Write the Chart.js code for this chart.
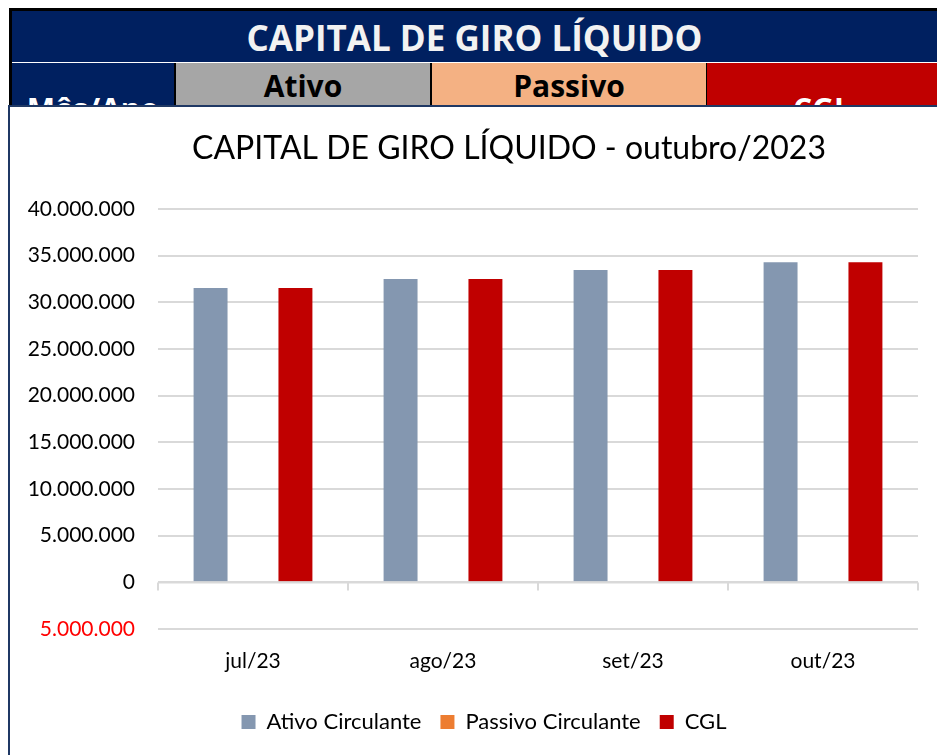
<!DOCTYPE html>
<html>
<head>
<meta charset="utf-8">
<script src="https://cdn.jsdelivr.net/npm/chart.js@4.4.0/dist/chart.umd.min.js"></script>
<style>
  body { margin: 0; background: #fff; width: 937px; height: 755px; overflow: hidden; position: relative; font-family: Lato, "Open Sans", sans-serif; }
  .box { position: absolute; overflow: hidden; }
  #frame { left: 9px; top: 8px; width: 928px; height: 120px; background: #000; }
  #top { left: 12px; top: 11px; width: 925px; height: 51px; background: #002060; color: #f2f2f2;
         font-family: "Open Sans", sans-serif; font-weight: bold; font-size: 35px; text-align: center; line-height: 54px; }
  #sep { left: 12px; top: 62px; width: 925px; height: 1px; background: #fff; }
  .cell { top: 63px; height: 60px; font-family: "Open Sans", sans-serif; font-weight: bold; font-size: 30px; text-align: center; }
  #c1 { left: 12px; width: 162px; background: #002060; color: #fff; }
  #c2 { left: 176px; width: 254px; background: #a6a6a6; color: #000; }
  #c3 { left: 432px; width: 274px; background: #f4b183; color: #000; }
  #c4 { left: 707px; width: 230px; background: #c00000; color: #fff; }
  .cell span { position: absolute; left: 0; right: 0; }
  #panel { left: 8px; top: 105px; width: 929px; height: 648px; background: #fff;
           border-top: 2px solid #1f3864; border-left: 2px solid #1f3864; }
</style>
</head>
<body>
<div class="box" id="frame"></div>
<div class="box" id="top">CAPITAL DE GIRO LÍQUIDO</div>
<div class="box" id="sep"></div>
<div class="box cell" id="c1"><span style="top:25px">Mês/Ano</span></div>
<div class="box cell" id="c2"><span style="top:2px">Ativo</span></div>
<div class="box cell" id="c3"><span style="top:2px">Passivo</span></div>
<div class="box cell" id="c4"><span style="top:25px">CGL</span></div>
<div class="box" id="panel"><canvas id="myChart" width="948" height="648"></canvas></div>
<script>
const months = ['jul/23', 'ago/23', 'set/23', 'out/23'];
const ativoCirculante = [31530000, 32490000, 33460000, 34290000];
const passivoCirculante = [0, 0, 0, 0];
const cgl = [31530000, 32490000, 33460000, 34290000];
const yMin = -5000000;
const yMax = 40000000;
const yStep = 5000000;

// numbers like Excel: 40.000.000, negatives in red without minus
function fmt(v) {
  return String(Math.abs(v)).replace(/\B(?=(\d{3})+(?!\d))/g, '.');
}

// zero line with category tick marks, Excel style
const zeroAxis = {
  id: 'zeroAxis',
  afterDatasetsDraw(chart) {
    const ctx = chart.ctx;
    const x = chart.scales.x;
    const y0 = Math.round(chart.scales.y.getPixelForValue(0)) + 0.5;
    ctx.save();
    ctx.strokeStyle = '#d9d9d9';
    ctx.lineWidth = 2;
    ctx.beginPath();
    ctx.moveTo(x.left, y0);
    ctx.lineTo(x.right, y0);
    const step = (x.right - x.left) / months.length;
    for (let i = 0; i <= months.length; i++) {
      const px = Math.round(x.left + i * step);
      ctx.moveTo(px, y0);
      ctx.lineTo(px, y0 + 8);
    }
    ctx.stroke();
    ctx.restore();
  }
};

// the excel chart is wider than the screenshot, so its title sits a bit right of centre
const titleShift = {
  id: 'titleShift',
  afterLayout(chart) {
    if (chart.titleBlock) {
      chart.titleBlock.left += 25;
      chart.titleBlock.right += 25;
    }
  }
};

const font = 'Lato, "Open Sans", sans-serif';

new Chart(document.getElementById('myChart'), {
  type: 'bar',
  data: {
    labels: months,
    datasets: [
      { label: 'Ativo Circulante', data: ativoCirculante, backgroundColor: '#8497b0' },
      { label: 'Passivo Circulante', data: passivoCirculante, backgroundColor: '#ed7d31' },
      { label: 'CGL', data: cgl, backgroundColor: '#c00000' }
    ]
  },
  options: {
    responsive: false,
    animation: false,
    layout: { padding: { left: 0, right: 0, top: 0, bottom: 12 } },
    datasets: { bar: { categoryPercentage: 0.67, barPercentage: 0.8 } },
    plugins: {
      title: {
        display: true,
        text: 'CAPITAL DE GIRO LÍQUIDO - outubro/2023',
        color: '#000',
        font: { family: font, size: 32, weight: 'normal' },
        padding: { top: 22, bottom: 41.6 }
      },
      legend: {
        position: 'bottom',
        labels: {
          color: '#000',
          font: { family: font, size: 22 },
          boxWidth: 14,
          boxHeight: 14,
          padding: 19
        }
      },
      tooltip: { enabled: false }
    },
    scales: {
      x: {
        afterFit(scale) { scale.height = 63; },
        grid: { display: false },
        border: { display: false },
        ticks: { color: '#000', font: { family: font, size: 21 }, padding: 12 }
      },
      y: {
        min: yMin,
        max: yMax,
        afterFit(scale) { scale.width = 148; },
        grid: { color: '#d9d9d9', lineWidth: 2, drawTicks: false },
        border: { display: false },
        ticks: {
          stepSize: yStep,
          padding: 23,
          font: { family: font, size: 21 },
          color: (c) => c.tick.value < 0 ? '#ff0000' : '#000',
          callback: (v) => fmt(v)
        }
      },
      // empty right axis keeps the plot off the right edge like in excel
      y2: {
        position: 'right',
        afterFit(scale) { scale.width = 40; },
        grid: { display: false },
        border: { display: false },
        ticks: { display: false }
      }
    }
  },
  plugins: [zeroAxis, titleShift]
});
</script>
</body>
</html>
